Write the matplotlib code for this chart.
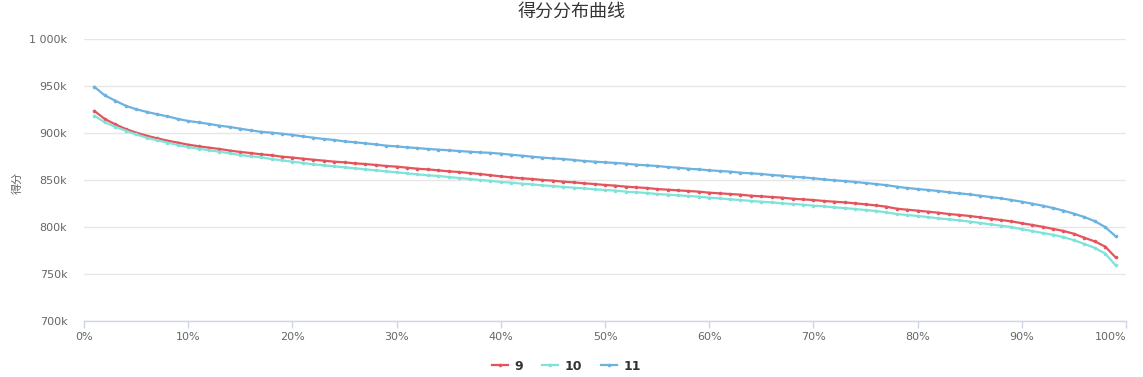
import matplotlib
matplotlib.use("Agg")
import matplotlib.pyplot as plt
from matplotlib.ticker import FuncFormatter
import numpy as np

plt.rcParams['font.family'] = ['DejaVu Sans', 'Noto Sans CJK SC']

title = "得分分布曲线"
y_label = "得分"
series_names = ["9", "10", "11"]
percentiles = list(range(1, 100))

s9 = [923.4, 914.9, 909.2, 904.3, 900.4, 897.2, 894.4, 891.9, 889.8, 887.6,
      885.9, 884.4, 883.0, 881.3, 879.8, 878.7, 877.3, 876.3, 874.8, 873.9,
      872.7, 871.6, 870.6, 869.5, 868.8, 867.7, 867.0, 866.0, 864.9, 864.2,
      863.1, 862.0, 861.3, 860.3, 859.2, 858.5, 857.4, 856.4, 855.1, 853.9,
      852.8, 851.8, 851.1, 850.0, 849.3, 848.2, 847.5, 846.5, 845.7, 844.7,
      844.0, 842.9, 842.2, 841.5, 840.4, 839.7, 839.0, 838.3, 837.6, 836.5,
      835.8, 835.1, 834.4, 833.3, 832.6, 831.9, 831.2, 830.1, 829.4, 828.7,
      827.7, 826.9, 826.2, 825.2, 824.1, 823.0, 821.6, 819.5, 818.4, 817.4,
      816.3, 815.2, 813.8, 812.8, 811.7, 810.3, 808.9, 807.4, 806.0, 804.0,
      802.2, 800.2, 798.0, 795.8, 792.8, 788.6, 784.7, 779.2, 767.7]

s10 = [918.4, 911.3, 906.7, 902.5, 898.6, 895.0, 892.3, 889.8, 887.2, 885.1,
       883.3, 881.6, 880.1, 878.4, 876.6, 875.2, 874.1, 872.3, 870.9, 869.5,
       868.1, 866.7, 865.6, 864.5, 863.5, 862.4, 861.3, 860.3, 859.2, 858.2,
       857.1, 856.0, 855.0, 854.3, 853.2, 852.1, 851.1, 850.0, 849.1, 847.9,
       847.2, 846.1, 845.4, 844.3, 843.6, 842.6, 841.8, 841.1, 840.1, 839.4,
       838.7, 837.6, 836.9, 836.2, 835.1, 834.4, 833.7, 833.0, 832.3, 831.2,
       830.5, 829.4, 828.7, 827.7, 826.9, 826.2, 825.2, 824.5, 823.8, 822.7,
       822.0, 820.9, 820.2, 819.1, 818.1, 817.0, 815.6, 813.8, 812.8, 811.7,
       810.6, 809.2, 808.2, 807.1, 805.7, 804.3, 802.8, 801.4, 800.0, 797.6,
       795.8, 793.6, 791.8, 789.2, 786.0, 782.0, 777.8, 771.8, 759.2]

s11 = [949.0, 940.0, 934.4, 929.0, 925.3, 922.5, 920.0, 917.7, 915.0, 912.8,
       911.3, 909.6, 907.8, 906.4, 904.6, 902.8, 901.3, 900.3, 899.2, 898.0,
       896.4, 895.0, 893.6, 892.6, 891.1, 890.1, 889.0, 887.9, 886.5, 885.8,
       884.7, 884.0, 883.0, 882.3, 881.6, 880.8, 880.1, 879.4, 878.9, 878.0,
       876.9, 875.9, 874.8, 873.8, 873.0, 872.3, 871.3, 870.2, 869.5, 868.8,
       868.1, 867.4, 866.3, 865.6, 864.9, 863.8, 863.1, 862.0, 861.3, 860.3,
       859.6, 858.9, 857.8, 857.1, 856.4, 855.3, 854.6, 853.5, 852.8, 851.8,
       850.7, 849.6, 848.9, 847.9, 846.8, 845.7, 844.5, 842.9, 841.5, 840.4,
       839.4, 838.3, 836.9, 835.8, 834.7, 833.3, 831.9, 830.5, 828.7, 826.9,
       824.8, 822.7, 820.2, 817.4, 814.2, 810.6, 806.2, 800.0, 790.1]

series = [s9, s10, s11]
colors = ['#e5545c', '#7ee3d8', '#6cb2e0']

x_ticks = list(range(0, 101, 10))
y_ticks = [700000, 750000, 800000, 850000, 900000, 950000, 1000000]

W, H = 1143, 377
fig = plt.figure(figsize=(W / 100, H / 100), dpi=100)
ax = fig.add_axes([84 / W, 1 - 321 / H, (1126 - 84) / W, (321 - 39) / H])

for name, vals, c in zip(series_names, series, colors):
    ax.plot(percentiles, np.array(vals) * 1000, color=c, lw=1.6, marker='o',
            markersize=2.6, markeredgewidth=0, label=name, zorder=3)

ax.set_xlim(0, 100)
ax.set_ylim(700000, 1000000)
ax.set_yticks(y_ticks)
ax.set_xticks(x_ticks)


def yfmt(v, pos):
    k = int(round(v / 1000))
    return "{:,}k".format(k).replace(",", " ")


ax.yaxis.set_major_formatter(FuncFormatter(yfmt))
ax.xaxis.set_major_formatter(FuncFormatter(lambda v, p: "%d%%" % v))

ax.grid(axis='y', color='#e6e6e6', lw=1)
ax.set_axisbelow(True)
for s in ['top', 'right', 'left']:
    ax.spines[s].set_visible(False)
ax.spines['bottom'].set_color('#ccd6eb')
ax.spines['bottom'].set_linewidth(1)

ax.tick_params(axis='y', length=0, pad=12, labelsize=8, labelcolor='#666666')
ax.tick_params(axis='x', length=5, width=1, color='#ccd6eb', pad=3,
               labelsize=8, labelcolor='#666666')
xl = ax.get_xticklabels()
xl[-1].set_horizontalalignment('right')

fig.text(17 / W, 1 - 183 / H, y_label, rotation=90, ha='center', va='center',
         fontsize=8, color='#666666', family=['Noto Sans CJK SC', 'DejaVu Sans'])
fig.text(0.5, 1 - 12 / H, title, ha='center', va='center', fontsize=13,
         color='#333333', family=['Noto Sans CJK SC', 'DejaVu Sans'])

leg = fig.legend(loc='center', bbox_to_anchor=(566.5 / W, 1 - 366 / H), ncol=3,
                 frameon=False, handlelength=1.3, columnspacing=1.5,
                 handletextpad=0.5, prop={'size': 9, 'weight': 'bold'})
for t in leg.get_texts():
    t.set_color('#333333')

fig.savefig('out.png', dpi=100)
